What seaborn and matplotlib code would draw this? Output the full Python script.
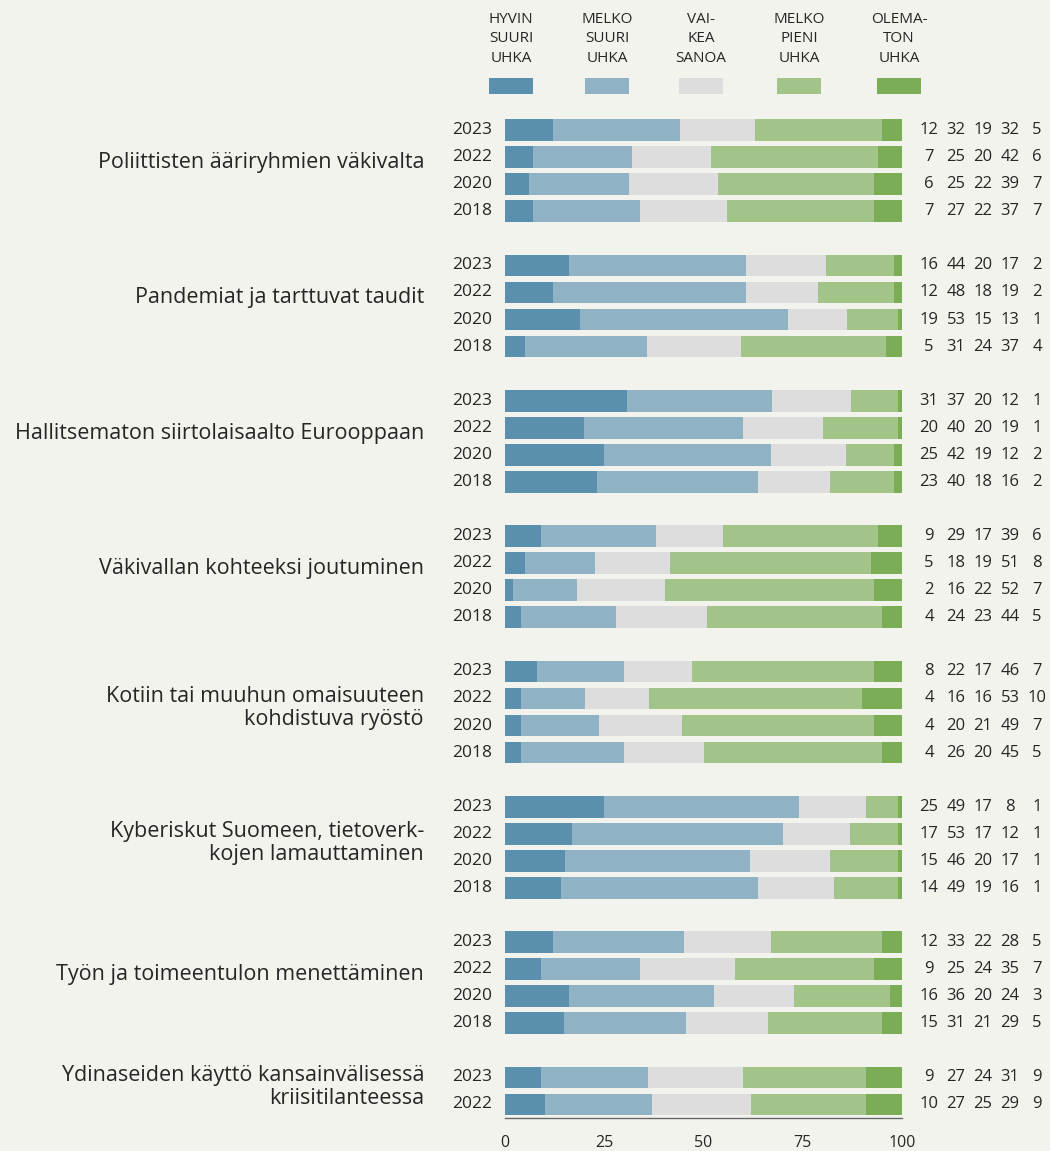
import numpy as np
import pandas as pd
import matplotlib
matplotlib.use("Agg")
import matplotlib.pyplot as plt
import seaborn as sns
from matplotlib.patches import Rectangle

categories = [
    "Poliittisten ääriryhmien väkivalta",
    "Pandemiat ja tarttuvat taudit",
    "Hallitsematon siirtolaisaalto Eurooppaan",
    "Väkivallan kohteeksi joutuminen",
    "Kotiin tai muuhun omaisuuteen\nkohdistuva ryöstö",
    "Kyberiskut Suomeen, tietoverk-\nkojen lamauttaminen",
    "Työn ja toimeentulon menettäminen",
    "Ydinaseiden käyttö kansainvälisessä\nkriisitilanteessa",
]
years = [
    ["2023", "2022", "2020", "2018"],
    ["2023", "2022", "2020", "2018"],
    ["2023", "2022", "2020", "2018"],
    ["2023", "2022", "2020", "2018"],
    ["2023", "2022", "2020", "2018"],
    ["2023", "2022", "2020", "2018"],
    ["2023", "2022", "2020", "2018"],
    ["2023", "2022"],
]
series_names = ["HYVIN\nSUURI\nUHKA", "MELKO\nSUURI\nUHKA", "VAI-\nKEA\nSANOA",
                "MELKO\nPIENI\nUHKA", "OLEMA-\nTON\nUHKA"]
values = [
    [[12, 32, 19, 32, 5], [7, 25, 20, 42, 6], [6, 25, 22, 39, 7], [7, 27, 22, 37, 7]],
    [[16, 44, 20, 17, 2], [12, 48, 18, 19, 2], [19, 53, 15, 13, 1], [5, 31, 24, 37, 4]],
    [[31, 37, 20, 12, 1], [20, 40, 20, 19, 1], [25, 42, 19, 12, 2], [23, 40, 18, 16, 2]],
    [[9, 29, 17, 39, 6], [5, 18, 19, 51, 8], [2, 16, 22, 52, 7], [4, 24, 23, 44, 5]],
    [[8, 22, 17, 46, 7], [4, 16, 16, 53, 10], [4, 20, 21, 49, 7], [4, 26, 20, 45, 5]],
    [[25, 49, 17, 8, 1], [17, 53, 17, 12, 1], [15, 46, 20, 17, 1], [14, 49, 19, 16, 1]],
    [[12, 33, 22, 28, 5], [9, 25, 24, 35, 7], [16, 36, 20, 24, 3], [15, 31, 21, 29, 5]],
    [[9, 27, 24, 31, 9], [10, 27, 25, 29, 9]],
]
colors = ["#5a8fae", "#8fb3c5", "#dddddd", "#a3c489", "#7aad55"]
xticks = [0, 25, 50, 75, 100]

BG = "#f3f3ee"
TXT = "#262626"

# Build long table
rows = []
for g, (cat, yrs, vals) in enumerate(zip(categories, years, values)):
    for r, (yr, v) in enumerate(zip(yrs, vals)):
        v = np.array(v, dtype=float)
        cum = np.cumsum(v / v.sum() * 100)
        pos = 5 * g + r
        rows.append(dict(group=g, pos=pos, year=yr, **{f"c{k}": cum[k] for k in range(5)},
                         **{f"v{k}": int(vals[r][k]) for k in range(5)}))
df = pd.DataFrame(rows)

sns.set_theme(style="white")
plt.rcParams["font.family"] = ["Open Sans", "DejaVu Sans"]

fig = plt.figure(figsize=(10.5, 11.51), dpi=100, facecolor=BG)
ax = fig.add_axes([505 / 1050, 1 - 1118 / 1151, 397 / 1050, (1118 - 116.5) / 1151])
ax.set_facecolor(BG)

for k in range(4, -1, -1):
    sns.barplot(data=df, x=f"c{k}", y="pos", orient="h", native_scale=True,
                color=colors[k], saturation=1, width=0.8, linewidth=0, ax=ax, errorbar=None)

ax.set_xlim(0, 100)
ax.set_ylim(36.5, -0.5)
ax.set_xlabel("")
ax.set_ylabel("")
ax.set_yticks([])
ax.set_xticks(xticks)
ax.set_xticklabels([str(t) for t in xticks], fontsize=11.5, color=TXT)
for s in ["top", "right", "left"]:
    ax.spines[s].set_visible(False)
ax.spines["bottom"].set_color("#666666")
ax.spines["bottom"].set_linewidth(1)
ax.tick_params(axis="x", direction="out", length=6, width=1, color="#666666", pad=6)

# year labels and numbers
num_x_px = [929, 956, 983, 1010, 1037]
for _, row in df.iterrows():
    ax.text(-3.2, row["pos"], row["year"], ha="right", va="center", fontsize=12.5, color=TXT)
    for k in range(5):
        xd = (num_x_px[k] - 505) / 397 * 100
        ax.text(xd, row["pos"], str(row[f"v{k}"]), ha="center", va="center",
                fontsize=12, color=TXT, clip_on=False)

# category labels
for g, (cat, yrs) in enumerate(zip(categories, years)):
    off = -0.3 if "\n" not in cat else -0.15
    center = 5 * g + (len(yrs) - 1) / 2 + off
    ax.text((424 - 505) / 397 * 100, center, cat, ha="right", va="center",
            multialignment="right", fontsize=15.5, color=TXT, linespacing=1.1)

# legend
leg_x_px = [511, 607, 701, 799, 899]
for k in range(5):
    xc = (leg_x_px[k] - 505) / 397 * 100
    w = 44 / 397 * 100
    h = 16 / 27
    ax.add_patch(Rectangle((xc - w / 2, (86 - 130) / 27 - h / 2), w, h,
                           facecolor=colors[k], edgecolor="none", clip_on=False))
    ax.text(xc, (39 - 130) / 27, series_names[k], ha="center", va="center",
            fontsize=11, color=TXT, linespacing=1.4, clip_on=False)

fig.savefig("out.png", dpi=100, facecolor=BG)
